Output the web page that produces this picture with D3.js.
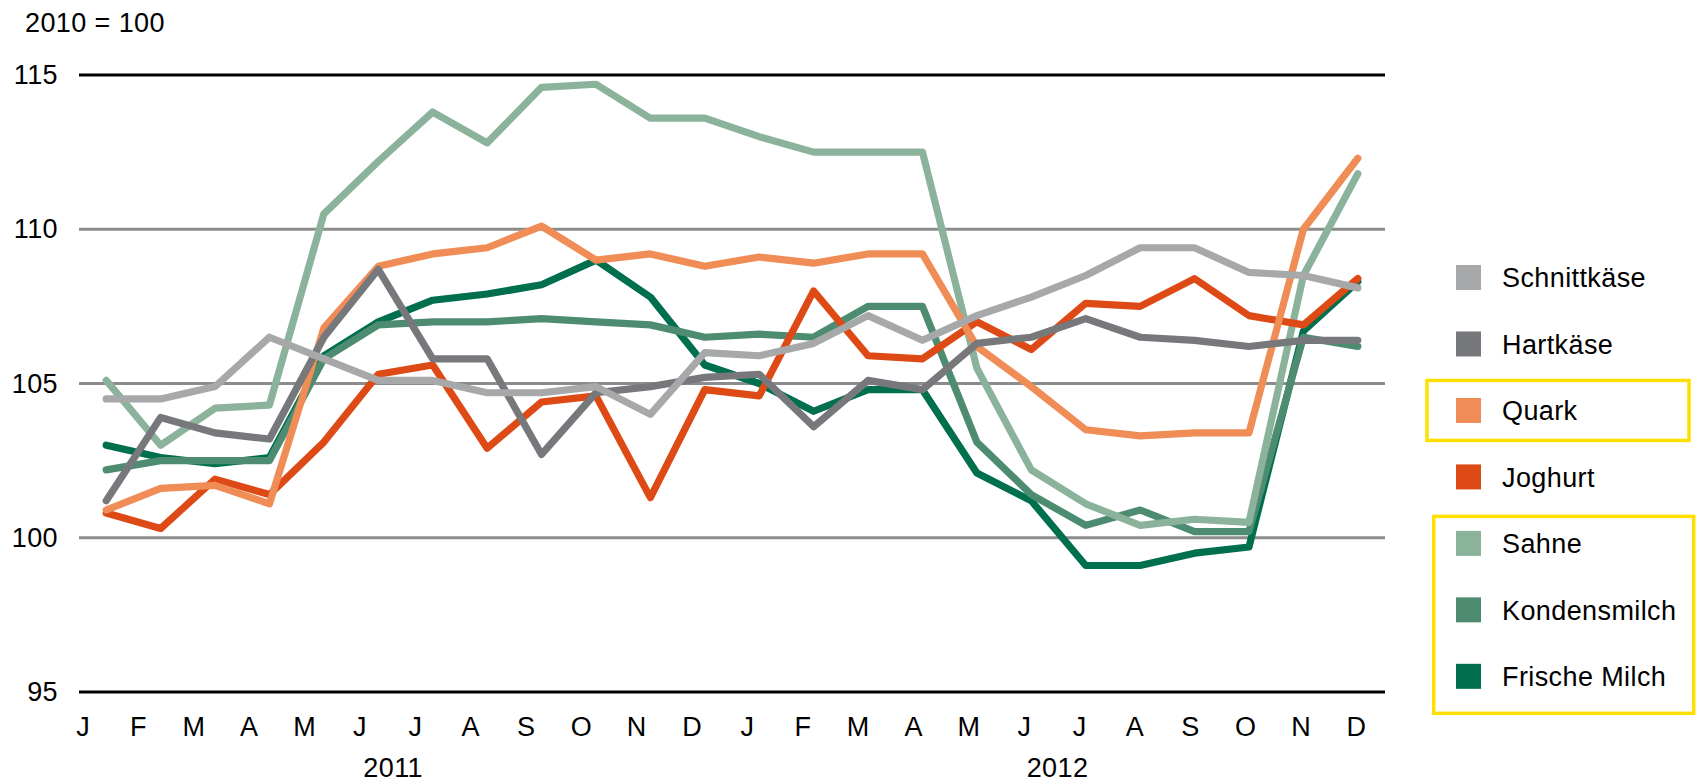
<!DOCTYPE html>
<html>
<head>
<meta charset="utf-8">
<script src="https://cdn.jsdelivr.net/npm/d3@7"></script>
<style>
  html, body { margin: 0; padding: 0; background: #fff; }
  svg { display: block; font-family: "Liberation Sans", Arial, sans-serif; }
  svg text { letter-spacing: 0.4px; }
</style>
</head>
<body>
<div id="plot"></div>
<script>
// months of 2011 and 2012
var categories = ["2011-01","2011-02","2011-03","2011-04","2011-05","2011-06","2011-07","2011-08","2011-09","2011-10","2011-11","2011-12",
                  "2012-01","2012-02","2012-03","2012-04","2012-05","2012-06","2012-07","2012-08","2012-09","2012-10","2012-11","2012-12"];
var monthLabels = ["J","F","M","A","M","J","J","A","S","O","N","D",
                   "J","F","M","A","M","J","J","A","S","O","N","D"];
var years = ["2011", "2012"];
var yTicks = [95, 100, 105, 110, 115];

var schnittkaese = [104.5,104.5,104.9,106.5,105.8,105.1,105.1,104.7,104.7,104.9,104.0,106.0,105.9,106.3,107.2,106.4,107.2,107.8,108.5,109.4,109.4,108.6,108.5,108.1];
var hartkaese    = [101.2,103.9,103.4,103.2,106.5,108.7,105.8,105.8,102.7,104.7,104.9,105.2,105.3,103.6,105.1,104.8,106.3,106.5,107.1,106.5,106.4,106.2,106.4,106.4];
var quark        = [100.9,101.6,101.7,101.1,106.8,108.8,109.2,109.4,110.1,109.0,109.2,108.8,109.1,108.9,109.2,109.2,106.2,104.9,103.5,103.3,103.4,103.4,110.0,112.3];
var joghurt      = [100.8,100.3,101.9,101.4,103.1,105.3,105.6,102.9,104.4,104.6,101.3,104.8,104.6,108.0,105.9,105.8,107.0,106.1,107.6,107.5,108.4,107.2,106.9,108.4];
var sahne        = [105.1,103.0,104.2,104.3,110.5,112.2,113.8,112.8,114.6,114.7,113.6,113.6,113.0,112.5,112.5,112.5,105.5,102.2,101.1,100.4,100.6,100.5,108.5,111.8];
var kondensmilch = [102.2,102.5,102.5,102.5,105.8,106.9,107.0,107.0,107.1,107.0,106.9,106.5,106.6,106.5,107.5,107.5,103.1,101.4,100.4,100.9,100.2,100.2,106.5,106.2];
var frischeMilch = [103.0,102.6,102.4,102.6,105.9,107.0,107.7,107.9,108.2,109.0,107.8,105.6,105.0,104.1,104.8,104.8,102.1,101.2,99.1,99.1,99.5,99.7,106.7,108.3];

var seriesNames = ["Schnittkäse","Hartkäse","Quark","Joghurt","Sahne","Kondensmilch","Frische Milch"];
var seriesValues = [schnittkaese, hartkaese, quark, joghurt, sahne, kondensmilch, frischeMilch];
var colors = ["#a7a8aa","#77787b","#f08c55","#de4a16","#8bb39b","#4e8c72","#006f4e"];
var highlighted = [[2, 2], [4, 6]];   // legend entries framed in yellow

var width = 1696, height = 784;
var font = 27;

var svg = d3.select("#plot").append("svg")
  .attr("width", width).attr("height", height);

var x = d3.scalePoint().domain(categories).range([79, 1385]).padding(0.5);
var xLabel = d3.scalePoint().domain(categories).range([82.7, 1356]);
var y = d3.scaleLinear().domain([95, 115]).range([692, 75]);

// grid lines
svg.append("g").selectAll("line").data(yTicks).enter().append("line")
  .attr("x1", 79).attr("x2", 1385)
  .attr("y1", function(d){ return y(d); })
  .attr("y2", function(d){ return y(d); })
  .attr("stroke", function(d){ return (d == 95 || d == 115) ? "#000" : "#8c8c8c"; })
  .attr("stroke-width", 3);

// y axis labels
var yaxis = d3.axisLeft(y).tickValues(yTicks).tickSize(0).tickPadding(0);
svg.append("g").attr("transform", "translate(58,0)").call(yaxis)
  .call(function(g){ g.select(".domain").remove(); })
  .selectAll("text")
  .attr("font-size", font + "px")
  .attr("font-family", "Liberation Sans, Arial, sans-serif")
  .attr("fill", "#000");

// x axis month letters
var xaxis = d3.axisBottom(xLabel).tickSize(0).tickPadding(0)
  .tickFormat(function(d, i){ return monthLabels[i]; });
svg.append("g").call(xaxis)
  .call(function(g){ g.select(".domain").remove(); })
  .selectAll("text")
  .attr("y", 736).attr("dy", 0)
  .attr("font-size", font + "px")
  .attr("font-family", "Liberation Sans, Arial, sans-serif")
  .attr("fill", "#000");

// year labels
svg.append("g").selectAll("text").data(years).enter().append("text")
  .attr("x", function(d){
    var first = xLabel(d + "-01"), last = xLabel(d + "-12");
    return (first + last) / 2 + 6;
  })
  .attr("y", 777)
  .attr("text-anchor", "middle")
  .attr("font-size", font + "px")
  .text(function(d){ return d; });

svg.append("text").attr("x", 25).attr("y", 32)
  .attr("font-size", font + "px")
  .text("2010 = 100");

// lines, last legend entry at the bottom
var line = d3.line()
  .x(function(d, i){ return x(categories[i]); })
  .y(function(d){ return y(d); });

var order = d3.range(seriesNames.length).reverse();
svg.append("g").selectAll("path").data(order).enter().append("path")
  .attr("d", function(k){ return line(seriesValues[k]); })
  .attr("fill", "none")
  .attr("stroke", function(k){ return colors[k]; })
  .attr("stroke-width", 7.2)
  .attr("stroke-linejoin", "round")
  .attr("stroke-linecap", "round");

// legend
var legendY = function(i){ return 277.5 + i * 66.47; };
var legend = svg.append("g");
legend.selectAll("rect").data(seriesNames).enter().append("rect")
  .attr("x", 1456)
  .attr("y", function(d, i){ return legendY(i) - 12.5; })
  .attr("width", 25).attr("height", 25)
  .attr("fill", function(d, i){ return colors[i]; });
legend.selectAll("text").data(seriesNames).enter().append("text")
  .attr("x", 1502)
  .attr("y", function(d, i){ return legendY(i) + 9.7; })
  .attr("font-size", font + "px")
  .attr("fill", "#000")
  .text(function(d){ return d; });

// yellow frames
svg.append("rect")
  .attr("x", 1427).attr("y", legendY(highlighted[0][0]) - 30)
  .attr("width", 262).attr("height", 60)
  .attr("fill", "none").attr("stroke", "#ffdf00").attr("stroke-width", 3.5);
svg.append("rect")
  .attr("x", 1433.7).attr("y", legendY(highlighted[1][0]) - 27)
  .attr("width", 260).attr("height", legendY(highlighted[1][1]) - legendY(highlighted[1][0]) + 64)
  .attr("fill", "none").attr("stroke", "#ffdf00").attr("stroke-width", 3.5);
</script>
</body>
</html>
